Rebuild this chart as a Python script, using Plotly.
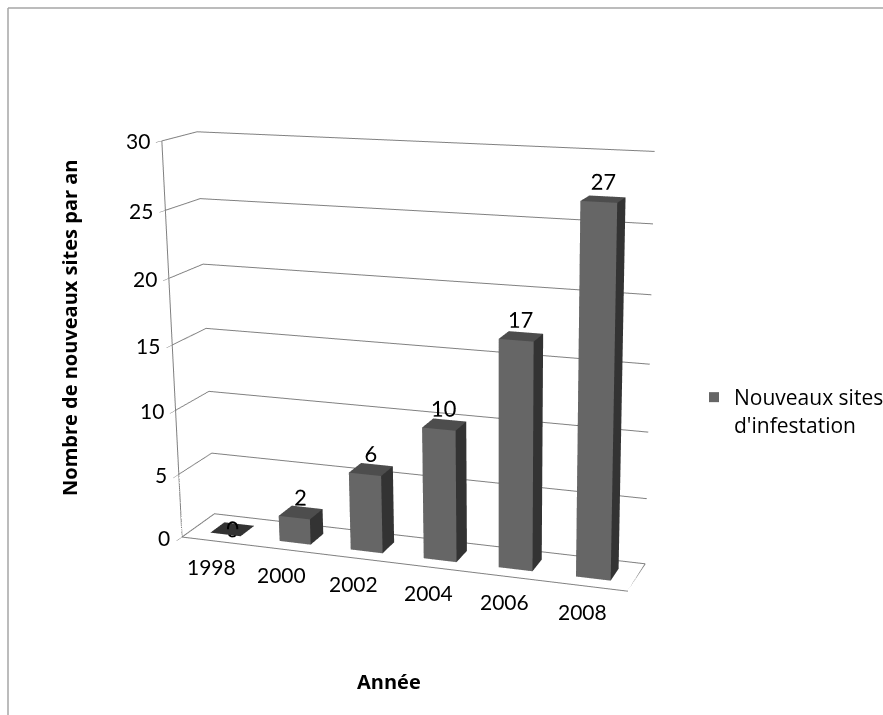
import plotly.graph_objects as go

years = ["1998", "2000", "2002", "2004", "2006", "2008"]
values = [0, 2, 6, 10, 17, 27]
z_ticks = [0, 5, 10, 15, 20, 25, 30]
series_name = "Nouveaux sites<br>d'infestation"
y_title = "Nombre de nouveaux sites par an"
x_title = "Année"

H = 1400
OFF = 350
PX = 502.0
FONT = "Lato, Open Sans, sans-serif"
W = 0.22
LABEL_GAP = 1.2
I = [0, 0, 1, 1, 2, 2, 3, 3, 4, 4, 0, 0]
J = [1, 5, 2, 6, 3, 7, 0, 4, 5, 6, 1, 2]
K = [5, 4, 6, 5, 7, 6, 4, 7, 6, 7, 2, 3]
FRONT, SIDE, TOP = "#666666", "#333333", "#4d4d4d"
FC = [FRONT, FRONT, SIDE, SIDE, SIDE, SIDE, SIDE, SIDE, TOP, TOP, SIDE, SIDE]

fig = go.Figure()
for i, v in enumerate(values):
    x0, x1, y0, y1 = i - W, i + W, 0.5 - W, 0.5 + W
    fig.add_trace(go.Mesh3d(x=[x0, x1, x1, x0, x0, x1, x1, x0], y=[y0, y0, y1, y1, y0, y0, y1, y1],
                            z=[0, 0, 0, 0, v, v, v, v],
                            i=I, j=J, k=K, facecolor=FC, flatshading=True,
                            lighting=dict(ambient=1, diffuse=0, specular=0, fresnel=0),
                            hoverinfo="skip", showlegend=False))
n = len(years)
fig.add_trace(go.Scatter3d(x=[-.5, n - .5, n - .5, -.5, -.5, -.5], y=[0, 0, 1, 1, 0, 0], z=[0, 0, 0, 0, 0, 30],
                           mode="lines", line=dict(color="#808080", width=2), showlegend=False, hoverinfo="skip"))
fig.add_trace(go.Scatter3d(x=[None], y=[None], z=[None], mode="markers", name=series_name,
                           marker=dict(symbol="square", size=10, color=FRONT)))
fig.add_trace(go.Scatter3d(x=list(range(n)), y=[0.5] * n, z=[v + LABEL_GAP if v else v for v in values],
                           mode="text", text=[str(v) for v in values], textposition="middle center",
                           showlegend=False, textfont=dict(family=FONT, size=22, color="#000000"), hoverinfo="skip"))


def px(v):
    return v / 883


def py(v):
    return 1 - (v + OFF) / H


tick_font = dict(size=21, family=FONT, color="#000000")
year_labels = [dict(x=i, y=0, z=0, text=yr, showarrow=False, xanchor="center", yanchor="middle",
                    xshift=-5, yshift=-25, font=tick_font) for i, yr in enumerate(years)]
z_labels = [dict(x=-.5, y=0, z=t, text=str(t), showarrow=False, xanchor="right", yanchor="middle",
                 xshift=-10, yshift=0, font=tick_font) for t in z_ticks]

common = dict(showbackground=False, showspikes=False, zeroline=False, title=dict(text=""), showline=False,
              showticklabels=False)
fig.update_layout(
    width=883, height=H, margin=dict(l=0, r=0, t=0, b=0, autoexpand=False), paper_bgcolor="white",
    font=dict(family=FONT, size=18, color="#000000"),
    legend=dict(x=px(694), y=py(411), xanchor="left", yanchor="middle", valign="top",
                font=dict(size=21, family="Open Sans"), bgcolor="rgba(0,0,0,0)"),
    scene=dict(
        domain=dict(x=[2 * PX / 883 - 1, 1], y=[0, 1]),
        aspectmode="manual", aspectratio=dict(x=1, y=0.1543, z=0.8669),
        camera=dict(eye=dict(x=1.2190, y=-3.1728, z=0.8947), center=dict(x=0.2095, y=0, z=0.0260),
                    up=dict(x=-0.0138, y=0, z=1)),
        xaxis=dict(common, range=[-0.5, n - .5], tickvals=list(range(n)), showgrid=False, ticks=""),
        yaxis=dict(common, range=[0, 1], showgrid=False, ticks=""),
        zaxis=dict(common, range=[0, 30], tickvals=z_ticks, showgrid=True, gridcolor="#808080", gridwidth=2,
                   ticks="outside", ticklen=6, tickcolor="#808080"),
        annotations=year_labels + z_labels,
    ),
    annotations=[
        dict(text="<b>%s</b>" % y_title, x=px(70), y=py(328), xref="paper", yref="paper", showarrow=False,
             textangle=-90, xanchor="center", yanchor="middle", font=dict(size=20, family="Open Sans")),
        dict(text="<b>%s</b>" % x_title, x=px(389), y=py(681), xref="paper", yref="paper", showarrow=False,
             xanchor="center", yanchor="middle", font=dict(size=20, family="Open Sans")),
    ],
    shapes=[
        dict(type="line", xref="paper", yref="paper", x0=px(8), x1=1, y0=py(8), y1=py(8),
             line=dict(color="#a6a6a6", width=1.5)),
        dict(type="line", xref="paper", yref="paper", x0=px(8), x1=px(8), y0=py(8), y1=py(715),
             line=dict(color="#a6a6a6", width=1.5)),
    ],
)
fig.write_html("out.html", default_width="883px", default_height="%dpx" % H,
               post_script="document.documentElement.style.overflow='hidden';document.body.style.overflow='hidden';"
                           "document.body.style.margin='0';document.getElementById('{plot_id}').style.marginTop='-%dpx';" % OFF)
